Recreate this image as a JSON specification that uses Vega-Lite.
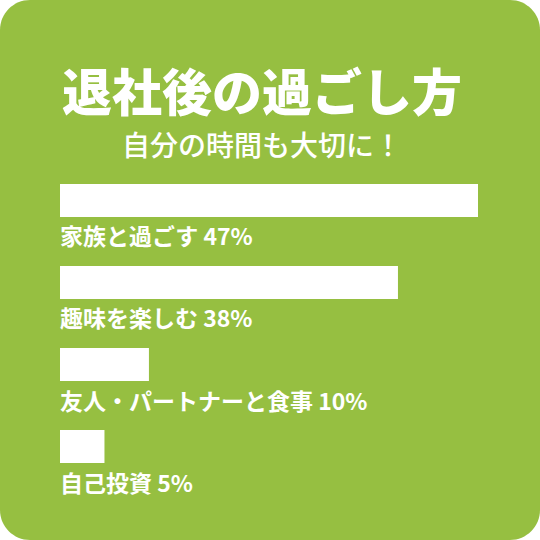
{
  "$schema": "https://vega.github.io/schema/vega-lite/v6.json",
  "width": 540,
  "height": 540,
  "padding": 0,
  "autosize": {"type": "none"},
  "background": "white",
  "title": {
    "text": "退社後の過ごし方",
    "subtitle": "自分の時間も大切に！",
    "orient": "top",
    "anchor": "middle",
    "offset": -162,
    "dx": -8,
    "font": "Noto Sans CJK JP",
    "fontSize": 50,
    "fontWeight": 900,
    "color": "white",
    "subtitleFont": "Noto Sans CJK JP",
    "subtitleFontSize": 28,
    "subtitleFontWeight": 500,
    "subtitleColor": "white",
    "subtitlePadding": 13
  },
  "data": {
    "values": [
      {"item": "家族と過ごす", "pct": 47, "label": "家族と過ごす 47%"},
      {"item": "趣味を楽しむ", "pct": 38, "label": "趣味を楽しむ 38%"},
      {"item": "友人・パートナーと食事", "pct": 10, "label": "友人・パートナーと食事 10%"},
      {"item": "自己投資", "pct": 5, "label": "自己投資 5%"}
    ]
  },
  "encoding": {
    "y": {
      "field": "item",
      "type": "nominal",
      "sort": null,
      "axis": null,
      "scale": {"range": [184, 463], "paddingInner": 0.598, "paddingOuter": 0}
    }
  },
  "layer": [
    {
      "mark": {"type": "bar", "color": "white", "cornerRadius": 0},
      "encoding": {
        "x": {
          "field": "pct",
          "type": "quantitative",
          "axis": null,
          "scale": {"domain": [0, 47], "range": [60, 478], "nice": false, "zero": true}
        }
      }
    },
    {
      "mark": {
        "type": "text",
        "align": "left",
        "baseline": "middle",
        "dy": 38,
        "color": "white",
        "font": "Noto Sans CJK JP",
        "fontSize": 23,
        "fontWeight": "bold"
      },
      "encoding": {
        "x": {"datum": 0, "type": "quantitative"},
        "text": {"field": "label", "type": "nominal"}
      }
    }
  ],
  "config": {
    "view": {"fill": "#96bf41", "stroke": null, "cornerRadius": 30}
  }
}
